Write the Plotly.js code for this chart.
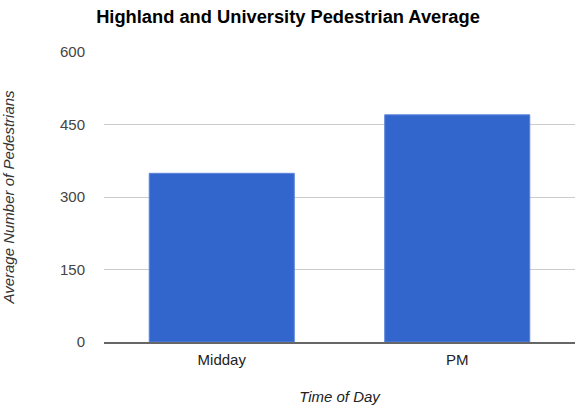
<!DOCTYPE html>
<html>
<head>
<meta charset="utf-8">
<script src="https://cdn.plot.ly/plotly-3.0.1.min.js"></script>
<style>html,body{margin:0;padding:0;background:#fff}#chart{width:576px;height:410px}</style>
</head>
<body>
<div id="chart"></div>
<script>
const categories = ["Midday", "PM"];
const pedestrianAverage = [349, 470];
const yTicks = [0, 150, 300, 450, 600];

const trace = {
  type: "bar",
  x: categories,
  y: pedestrianAverage,
  marker: { color: "#3366cc", line: { color: "#5b84dd", width: 1 } },
  hoverinfo: "x+y"
};

const layout = {
  width: 576,
  height: 410,
  margin: { l: 104, r: 1, t: 52, b: 68 },
  paper_bgcolor: "#fff",
  plot_bgcolor: "#fff",
  font: { family: "Arial, 'Liberation Sans', sans-serif", size: 15, color: "#444" },
  title: {
    text: "<b>Highland and University Pedestrian Average</b>",
    font: { size: 18.3, color: "#000", family: "Arial, 'Liberation Sans', sans-serif" },
    x: 0.5, xref: "container", xanchor: "center",
    y: 1 - 17 / 410, yref: "container", yanchor: "middle"
  },
  bargap: 0.384,
  showlegend: false,
  xaxis: {
    type: "category",
    range: [-0.5, 1.5],
    showgrid: false,
    showline: true,
    linecolor: "#666",
    linewidth: 1.5,
    ticks: "outside",
    ticklen: 3,
    tickcolor: "rgba(0,0,0,0)",
    tickfont: { size: 15, color: "#222" },
    title: { text: "<i>Time of Day</i>", font: { size: 15, color: "#222" }, standoff: 25 },
    zeroline: false
  },
  yaxis: {
    range: [0, 600],
    tickvals: yTicks,
    ticktext: yTicks.map(String),
    showgrid: true,
    gridcolor: "#cccccc",
    gridwidth: 1,
    zeroline: false,
    showline: false,
    ticks: "outside",
    ticklen: 15,
    tickcolor: "rgba(0,0,0,0)",
    tickfont: { size: 15, color: "#444" },
    title: { text: "<i>Average Number of Pedestrians</i>", font: { size: 15, color: "#333" }, standoff: 41 }
  }
};

Plotly.newPlot("chart", [trace], layout, { displayModeBar: false, staticPlot: true });
</script>
</body>
</html>
